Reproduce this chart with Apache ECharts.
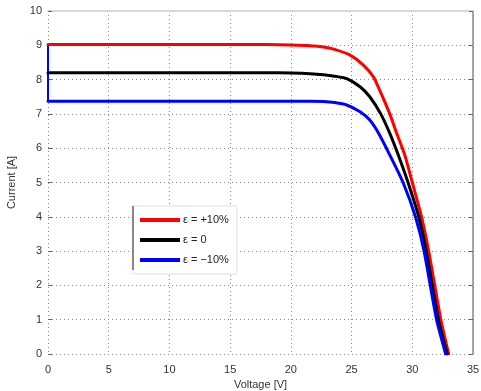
<!DOCTYPE html>
<html><head><meta charset="utf-8">
<script src="https://cdn.jsdelivr.net/npm/echarts@6/dist/echarts.min.js"></script>
<style>html,body{margin:0;padding:0;background:#fff}#c{width:481px;height:391px}</style>
</head><body><div id="c"></div>
<script>
var seriesNames = ['ε = +10%', 'ε = 0', 'ε = −10%'];
var xTicks = [0, 5, 10, 15, 20, 25, 30, 35];
var yTicks = [0, 1, 2, 3, 4, 5, 6, 7, 8, 9, 10];

var redV = [0, 18, 20, 21.6, 22.7, 23.6, 24.85, 25.95, 26.8, 27.3, 27.7, 28.2, 28.7, 29.4, 30.0, 30.76, 31.35, 32.35, 33.0];
var redI = [9.02, 9.02, 9.01, 8.99, 8.95, 8.88, 8.72, 8.43, 8.08, 7.70, 7.38, 6.95, 6.45, 5.78, 5.0, 4.0, 3.0, 1.0, 0];

var blackV = [0, 18, 20, 21.6, 22.7, 23.6, 24.6, 25.7, 26.5, 27.4, 28.15, 28.9, 29.65, 30.53, 31.15, 32.15, 32.88];
var blackI = [8.2, 8.2, 8.19, 8.17, 8.14, 8.1, 8.03, 7.79, 7.50, 7.0, 6.43, 5.75, 5.0, 4.0, 3.0, 1.0, 0];

var blueV = [0, 18, 20, 21.6, 22.7, 23.6, 24.6, 25.7, 26.5, 27.2, 28.15, 29.24, 30.26, 30.97, 32.0, 32.75];
var blueI = [7.37, 7.37, 7.37, 7.37, 7.36, 7.33, 7.26, 7.06, 6.82, 6.45, 5.80, 5.0, 4.0, 3.0, 1.0, 0];

var blueStartV = [0, 0];
var blueStartI = [9.02, 7.37];

function pairs(v, i) { return v.map(function (x, k) { return [x, i[k]]; }); }

var colors = ['#ff0000', '#000000', '#0000ff'];
var font = 'Liberation Sans, Arial, sans-serif';

var chart = echarts.init(document.getElementById('c'), null, {renderer: 'canvas'});
var lineCommon = function (name, data, color) {
  return {
    name: name, type: 'line', data: data, showSymbol: false, symbol: 'none',
    smooth: 0.2, lineStyle: {color: color, width: 3, join: 'round', cap: 'round'}, itemStyle: {color: color},
    xAxisIndex: 0, yAxisIndex: 0, z: 3, animation: false
  };
};
chart.setOption({
  animation: false,
  backgroundColor: '#ffffff',
  grid: {left: 48, right: 8, top: 11, bottom: 37, containLabel: false, outerBoundsMode: 'none'},
  xAxis: [{
    type: 'value', min: 0, max: 35, interval: 5,
    name: 'Voltage [V]', nameLocation: 'middle', nameGap: 22,
    nameTextStyle: {fontFamily: font, fontSize: 11, color: '#333'},
    axisLine: {show: false},
    axisTick: {show: false},
    axisLabel: {fontFamily: font, fontSize: 11, color: '#333', margin: 10},
    splitLine: {show: true, lineStyle: {type: [1, 3], color: '#888', width: 1}}
  }, {
    type: 'value', position: 'top', min: 0, max: 35, interval: 5,
    axisLine: {show: true, onZero: false, lineStyle: {color: '#d8d8d8', width: 2}},
    axisTick: {show: false}, axisLabel: {show: false}, splitLine: {show: false}
  }],
  yAxis: [{
    type: 'value', min: 0, max: 10, interval: 1,
    name: 'Current [A]', nameLocation: 'middle', nameGap: 31,
    nameTextStyle: {fontFamily: font, fontSize: 11, color: '#333'},
    axisLine: {show: false},
    axisTick: {show: true, inside: true, length: 4, lineStyle: {color: '#666'}},
    axisLabel: {fontFamily: font, fontSize: 11, color: '#333', margin: 6},
    splitLine: {show: true, lineStyle: {type: [1, 3], color: '#888', width: 1}}
  }, {
    type: 'value', position: 'right', min: 0, max: 10, interval: 1,
    axisLine: {show: true, onZero: false, lineStyle: {color: '#888', width: 1.5}},
    axisTick: {show: true, inside: true, length: 4, lineStyle: {color: '#666'}},
    axisLabel: {show: false}, splitLine: {show: false}
  }],
  legend: {
    orient: 'vertical', left: 133, top: 206,
    data: seriesNames,
    icon: 'rect', itemWidth: 40, itemHeight: 4, itemGap: 6,
    padding: [7, 8, 7, 7],
    backgroundColor: '#ffffff',
    borderColor: '#e0e0e0', borderWidth: 1,
    textStyle: {fontFamily: font, fontSize: 11, color: '#222', lineHeight: 14, padding: [0, 0, 0, -2]}
  },
  graphic: [{
    type: 'line', z: 100,
    shape: {x1: 133, y1: 206, x2: 133, y2: 270},
    style: {stroke: '#666', lineWidth: 1.5}
  }],
  series: [
    lineCommon(seriesNames[0], pairs(redV, redI), colors[0]),
    lineCommon(seriesNames[1], pairs(blackV, blackI), colors[1]),
    lineCommon(seriesNames[2], pairs(blueV, blueI), colors[2]),
    {
      name: 'blue-start', type: 'line', data: pairs(blueStartV, blueStartI),
      showSymbol: false, symbol: 'none', smooth: false,
      lineStyle: {color: colors[2], width: 2}, z: 2
    }
  ]
});
</script>
</body></html>
